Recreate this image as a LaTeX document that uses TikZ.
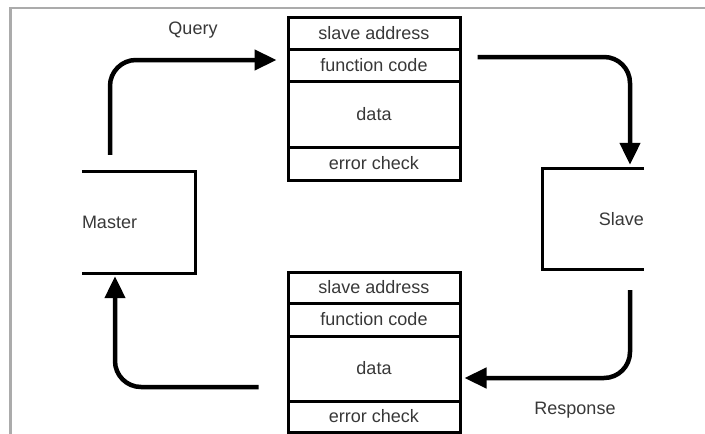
\documentclass[tikz,border=0pt]{standalone}
\usepackage{fontspec}
\setmainfont{Liberation Sans}
\usetikzlibrary{arrows.meta}
\usetikzlibrary{shapes}

\begin{document}
\begin{tikzpicture}[x = 1pt, y = -1pt, font=\fontsize{18}{20}\selectfont]
	\tikzstyle{rowStyle}=[shape = rectangle, minimum width = 172pt, inner sep = 1pt, draw, line width = 3pt, text = black!78]
	\tikzstyle{boxStyle}=[shape = rectangle, inner sep = 0pt, text = black!78]
	\tikzstyle{labelStyle}=[inner sep = 0pt, text = black!78]
	\tikzstyle{flowStyle}=[line width = 4.5pt, rounded corners = 26pt, -{Triangle[length=22pt, width=20pt]}]
	\useasboundingbox (0,0) rectangle (705,434);
	\draw[black!33, line width = 2.5pt] (10.5,434) -- (10.5,8) -- (705,8);
	\node[rowStyle, minimum height = 32pt] (qaddr) at (374,33) {slave address};
	\node[rowStyle, minimum height = 32pt] (qfunc) at (374,65) {function code};
	\node[rowStyle, minimum height = 66pt] (qdata) at (374,114) {data};
	\node[rowStyle, minimum height = 33pt] (qcheck) at (374,163.5) {error check};
	\node[rowStyle, minimum height = 31pt] (raddr) at (374,287.5) {slave address};
	\node[rowStyle, minimum height = 33pt] (rfunc) at (374,319.5) {function code};
	\node[rowStyle, minimum height = 65pt] (rdata) at (374,368.5) {data};
	\node[rowStyle, minimum height = 31pt] (rcheck) at (374,416.5) {error check};
	\node[boxStyle, minimum height = 101pt, text width = 113pt, align = left] (master) at (138.5,222.5) {Master};
	\node[boxStyle, minimum height = 100pt, text width = 101pt, align = right] (slave) at (593.5,219) {Slave};
	\draw[line width = 3pt] (master.north west) -- (master.north east) -- (master.south east) -- (master.south west);
	\draw[line width = 3pt] (slave.north east) -- (slave.north west) -- (slave.south west) -- (slave.south east);
	\node[labelStyle] (query) at (193,30) {Query};
	\node[labelStyle] (response) at (575,410) {Response};
	\draw[flowStyle] ([xshift=-28.5pt, yshift=17pt]master.north) |- ([xshift=-10pt, yshift=5pt]qfunc.west);
	\draw[flowStyle] ([xshift=16pt, yshift=8pt]qfunc.east) -| ([xshift=36.5pt, yshift=4pt]slave.north);
	\draw[flowStyle] ([xshift=36.5pt, yshift=-21pt]slave.south) |- ([xshift=3pt, yshift=-9.5pt]rdata.east);
	\draw[flowStyle] ([xshift=-28pt, yshift=-18.5pt]rdata.west) -| ([xshift=-23.5pt, yshift=-3pt]master.south);
\end{tikzpicture}
\end{document}
